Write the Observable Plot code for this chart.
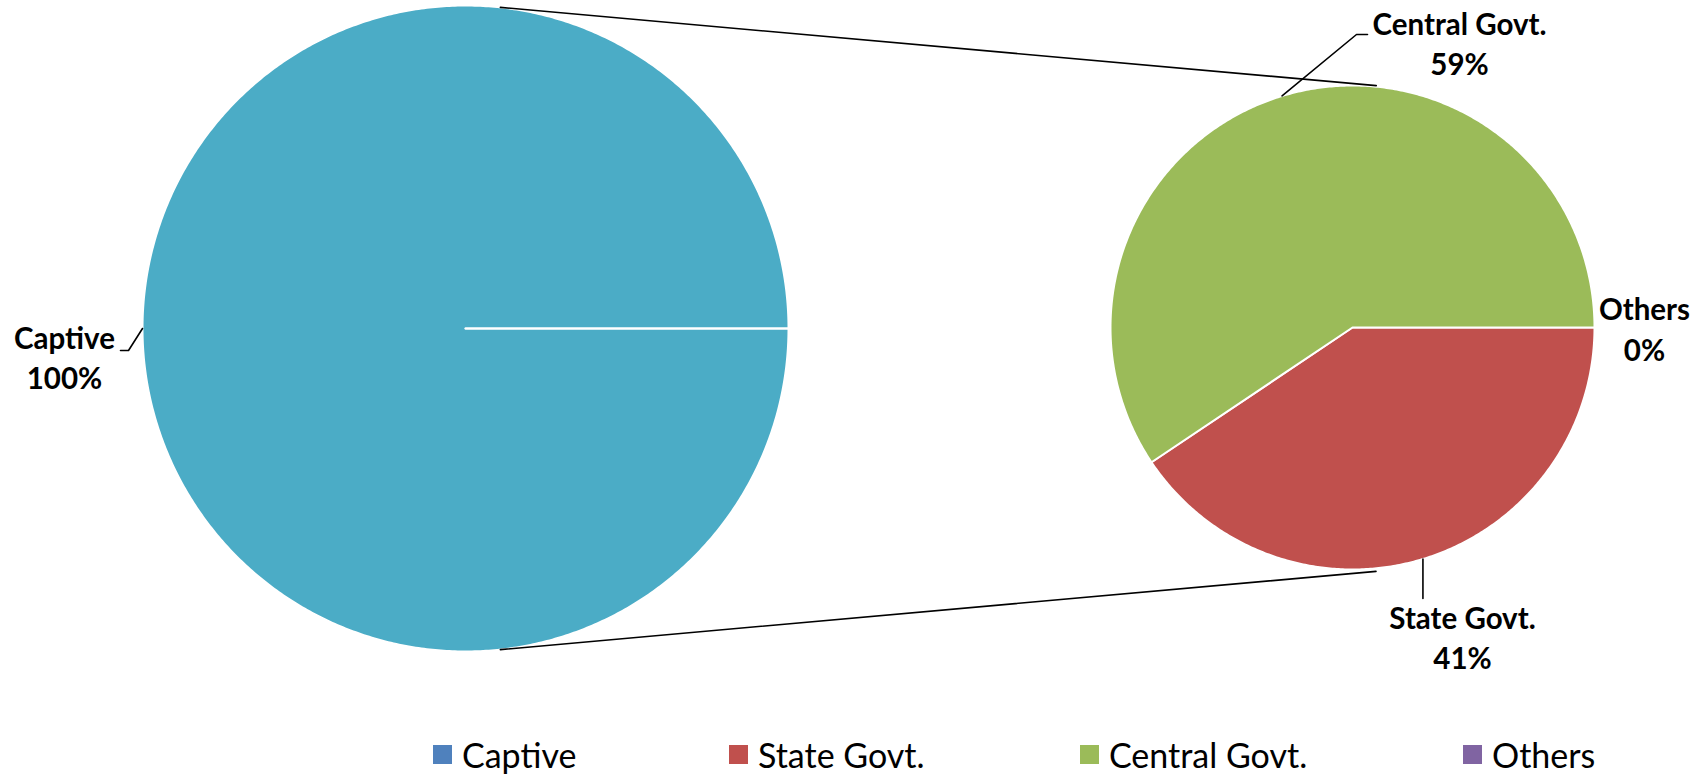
<!DOCTYPE html>
<html>
<head>
<meta charset="utf-8">
<script src="https://cdn.jsdelivr.net/npm/d3@7"></script>
<script src="https://cdn.jsdelivr.net/npm/@observablehq/plot@0.6"></script>
<style>
  html, body { margin: 0; padding: 0; background: #fff; }
  #wrap { position: relative; width: 1696px; height: 777px; overflow: hidden; font-family: Lato, "Open Sans", sans-serif; }
  .leg { position: absolute; top: 736px; height: 36px; display: flex; align-items: center; font-size: 34px; color: #000; white-space: nowrap; }
  .leg .sw { width: 19px; height: 19px; margin-right: 10px; flex: none; }
</style>
</head>
<body>
<div id="wrap"></div>
<script>
// ---- data ----
const legendCategories = ["Captive", "State Govt.", "Central Govt.", "Others"];
const legendColors = ["#4F81BD", "#C0504D", "#9BBB59", "#8064A2"];

const primaryNames = ["Captive", "Other"];
const primaryValues = [100, 0];
const primaryColors = ["#4BACC6", "#4BACC6"];

const secondaryNames = ["Others", "State Govt.", "Central Govt."];
const secondaryValues = [0, 40.6, 59.4];
const secondaryColors = ["#8064A2", "#C0504D", "#9BBB59"];

// ---- layout ----
const W = 1696, H = 777;
const big = {cx: 465, cy: 328, r: 323};
const small = {cx: 1352, cy: 327, r: 242};
const start = Math.PI / 2; // slices start at 3 o'clock, clockwise

function pt(c, a, r = c.r) { return {x: c.cx + r * Math.sin(a), y: c.cy - r * Math.cos(a)}; }

function slices(names, values, colors, c) {
  const arcs = d3.pie().sort(null).value(d => d).startAngle(start).endAngle(start + 2 * Math.PI)(values);
  return arcs.map((a, i) => {
    const pts = [{x: c.cx, y: c.cy}];
    const n = Math.max(1, Math.ceil((a.endAngle - a.startAngle) / (Math.PI / 360)));
    for (let k = 0; k <= n; k++) pts.push(pt(c, a.startAngle + (a.endAngle - a.startAngle) * k / n));
    pts.push({x: c.cx, y: c.cy});
    return {name: names[i], value: values[i], color: colors[i], pts, mid: (a.startAngle + a.endAngle) / 2};
  });
}

const bigSlices = slices(primaryNames, primaryValues, primaryColors, big);
const smallSlices = slices(secondaryNames, secondaryValues, secondaryColors, small);
const total1 = d3.sum(primaryValues), total2 = d3.sum(secondaryValues);
const pct = (v, t) => `${Math.round(v / t * 100)}%`;

// connector lines between the two pies (angles from 12 o'clock, clockwise)
const deg = Math.PI / 180;
const connectors = [
  [pt(big, 6.2 * deg), pt(small, 5.6 * deg, small.r + 1)],
  [pt(big, 173.8 * deg), pt(small, 174.5 * deg, small.r + 3)]
].flatMap((seg, i) => seg.map(p => ({...p, id: i})));

// data labels
const cap = bigSlices[0], cen = smallSlices[2], sta = smallSlices[1], oth = smallSlices[0];
const capP = pt(big, cap.mid), cenP = pt(small, cen.mid), staP = pt(small, sta.mid);
const leaders = [
  [capP, {x: 128, y: 350}, {x: 120, y: 350}],
  [cenP, {x: 1356, y: 34}, {x: 1367, y: 34}],
  [staP, {x: staP.x, y: 598}]
].flatMap((seg, i) => seg.map(p => ({...p, id: i})));

const labels = [
  {x: 64, y1: 348, y2: 388, name: cap.name, p: pct(cap.value, total1)},
  {x: 1459, y1: 34, y2: 74, name: cen.name, p: pct(cen.value, total2)},
  {x: 1644, y1: 319, y2: 360, name: oth.name, p: pct(oth.value, total2)},
  {x: 1462, y1: 628, y2: 668, name: sta.name, p: pct(sta.value, total2)}
];

const marks = [];
for (const s of [...bigSlices, ...smallSlices]) {
  marks.push(Plot.line(s.pts, {x: "x", y: "y", fill: s.color, stroke: "#fff", strokeWidth: 2, strokeLinejoin: "round"}));
}
marks.push(Plot.line(connectors, {x: "x", y: "y", z: "id", stroke: "#000", strokeWidth: 1.6}));
marks.push(Plot.line(leaders, {x: "x", y: "y", z: "id", stroke: "#000", strokeWidth: 1.6}));
const textOpts = {fontSize: 29.5, fontWeight: "bold", fill: "#000", textAnchor: "middle", lineAnchor: "bottom", fontFamily: "Lato"};
marks.push(Plot.text(labels, {x: "x", y: "y1", text: "name", ...textOpts}));
marks.push(Plot.text(labels, {x: "x", y: "y2", text: "p", ...textOpts}));

const chart = Plot.plot({
  width: W, height: H,
  margin: 0,
  x: {domain: [0, W], range: [0, W], axis: null},
  y: {domain: [0, H], range: [0, H], axis: null},
  style: {fontFamily: "Lato", background: "#fff", overflow: "visible"},
  marks
});
const wrap = document.getElementById("wrap");
wrap.appendChild(chart);

// legend
const legendLeft = [433, 729, 1080, 1463];
legendCategories.forEach((c, i) => {
  const d = document.createElement("div");
  d.className = "leg";
  d.style.left = legendLeft[i] + "px";
  d.innerHTML = `<span class="sw" style="background:${legendColors[i]}"></span><span>${c}</span>`;
  wrap.appendChild(d);
});
</script>
</body>
</html>
